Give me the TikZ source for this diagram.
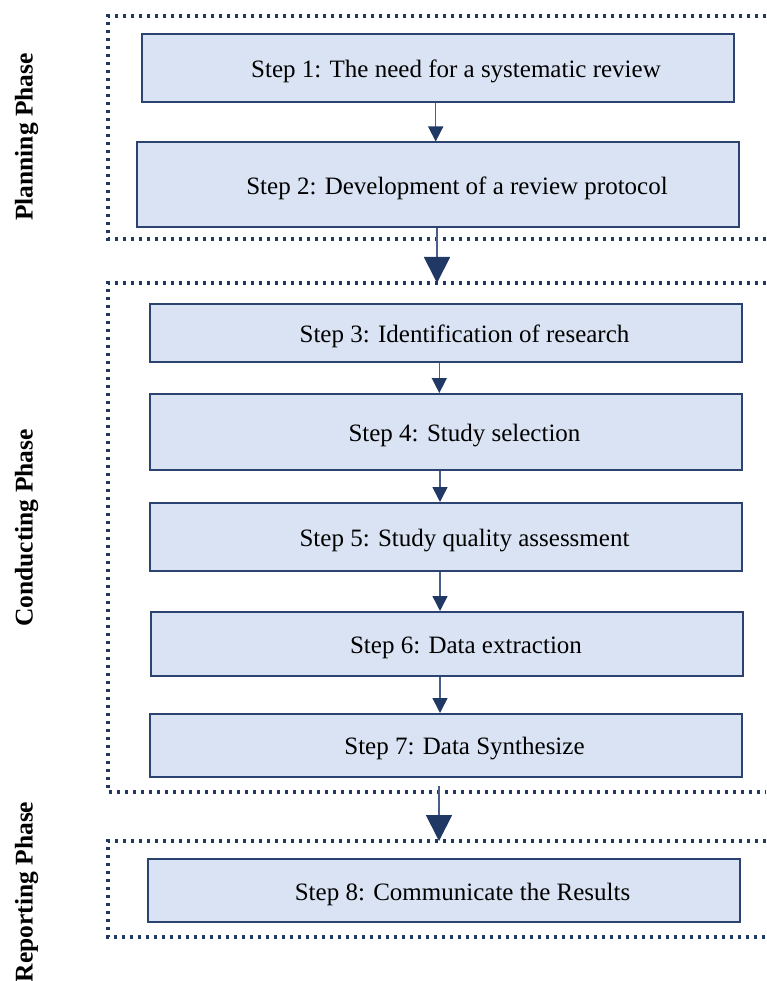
\documentclass[tikz,border=0pt]{standalone}
\usepackage{fontspec}
\setmainfont{Liberation Serif}
\usetikzlibrary{arrows.meta}
\definecolor{boxfill}{HTML}{DAE3F3}
\definecolor{boxline}{HTML}{2C4270}
\definecolor{navy}{HTML}{1F3864}
\definecolor{shaft}{HTML}{4A5E8A}
\tikzset{
  stepbox/.style={draw=boxline, fill=boxfill, line width=2pt, inner sep=0pt},
  steptext/.style={font=\fontsize{25}{30}\selectfont, text=black},
  phase/.style={font=\fontsize{25.5}{30}\selectfont\bfseries, rotate=90, text=black},
  frame/.style={draw=navy, line width=3.2pt, dash pattern=on 3.4pt off 4.6pt},
  smallarr/.style={draw=shaft, line width=1.5pt, -{Triangle[width=15pt,length=15pt,color=navy]}},
  bigarr/.style={draw=shaft, line width=1.8pt, -{Triangle[width=26pt,length=26pt,color=navy]}}
}
\newcommand{\stepnode}[7]{%
  \node[stepbox, minimum width=#4pt, minimum height=#5pt,
        label={[steptext, xshift=#6pt, yshift=-3.5pt]center:#7}] (#1) at (#2,#3) {};}
\begin{document}
\begin{tikzpicture}[x=1pt, y=-1pt]
\useasboundingbox (0,0) rectangle (766,981);
% frames
\draw[frame] (766,16) -- (108,16) -- (108,239) -- (766,239);
\draw[frame] (766,283) -- (108,283) -- (108,792) -- (766,792);
\draw[frame] (766,841) -- (108,841) -- (108,937) -- (766,937);
% phase labels
\node[phase] (p1) at (26.5,137) {Planning Phase};
\node[phase] (p2) at (26.5,528) {Conducting Phase};
\node[phase] (p3) at (26.5,892) {Reporting Phase};
% steps
\stepnode{s1}{438}{68}{592}{68}{18}{Step 1: The need for a systematic review}
\stepnode{s2}{438}{185}{602}{85}{19}{Step 2: Development of a review protocol}
\stepnode{s3}{446}{333}{592}{58}{18.5}{Step 3: Identification of research}
\stepnode{s4}{446}{432}{592}{76}{18.5}{Step 4: Study selection}
\stepnode{s5}{446}{537}{592}{68}{18.5}{Step 5: Study quality assessment}
\stepnode{s6}{447}{644}{592}{64}{19}{Step 6: Data extraction}
\stepnode{s7}{446}{745.5}{592}{63}{18.5}{Step 7: Data Synthesize}
\stepnode{s8}{444}{890.5}{592}{63}{18.5}{Step 8: Communicate the Results}
% coordinates on frames
\coordinate (f2top) at (437,283);
\coordinate (f3top) at (439,841);
% connectors
\draw[smallarr] ([xshift=-2.3pt]s1.south) -- ([xshift=-2.3pt]s2.north);
\draw[bigarr] ([xshift=-1pt]s2.south) -- (f2top);
\draw[smallarr] ([xshift=-6.7pt]s3.south) -- ([xshift=-6.7pt]s4.north);
\draw[smallarr] ([xshift=-6pt]s4.south) -- ([xshift=-6pt]s5.north);
\draw[smallarr] ([xshift=-6pt]s5.south) -- ([xshift=-7pt]s6.north);
\draw[smallarr] ([xshift=-7pt]s6.south) -- ([xshift=-6pt]s7.north);
\draw[bigarr] ([xshift=-7pt,yshift=-8pt]s7.south) -- (f3top);
\end{tikzpicture}
\end{document}
